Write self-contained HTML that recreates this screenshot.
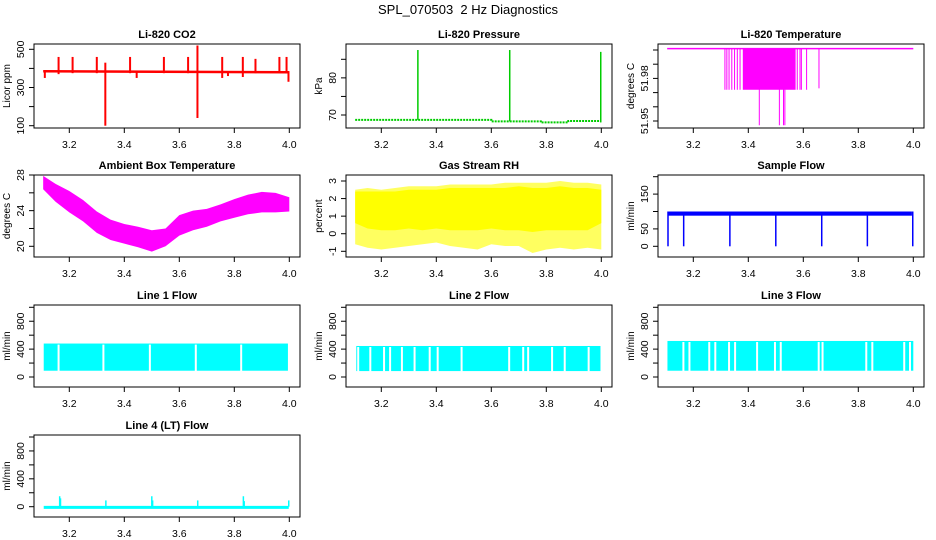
<!DOCTYPE html>
<html><head><meta charset="utf-8">
<style>
html,body{margin:0;padding:0;background:#fff;}
svg{display:block;font-family:"Liberation Sans",Arial,sans-serif;}
</style></head>
<body>
<svg id="chart" width="936" height="540" viewBox="0 0 936 540" xmlns="http://www.w3.org/2000/svg">
<rect x="0" y="0" width="936" height="540" fill="#fff"/>
<text x="468" y="14" text-anchor="middle" font-size="13" xml:space="preserve">SPL_070503&#160; 2 Hz Diagnostics</text>
</svg>
<script>
// ---------- data ----------
const xTicks = [3.2, 3.4, 3.6, 3.8, 4.0];
const xTickLabels = ["3.2", "3.4", "3.6", "3.8", "4.0"];

// CO2
const co2Line = [[3.105, 385], [4.0, 380]];
const co2Spikes = [[3.111,350,390],[3.161,370,460],[3.212,375,460],[3.300,375,460],[3.331,100,430],[3.421,375,460],[3.445,350,385],[3.544,375,460],[3.632,375,460],[3.666,140,520],[3.756,350,460],[3.777,360,385],[3.831,355,460],[3.877,375,450],[3.964,375,460],[3.990,375,460],[3.997,330,385]];
const co2Ticks = [100, 200, 300, 400, 500];
const co2Labels = ["100", "", "300", "", "500"];

// Pressure
const presLine = [[3.105,68.7],[3.6,68.7],[3.6,68.3],[3.78,68.3],[3.78,68.0],[3.88,68.0],[3.88,68.4],[3.995,68.4]];
const presSpikes = [[3.333,68.7,87.5],[3.667,68.3,87.5],[3.998,68.0,87.0]];
const presTicks = [70, 75, 80, 85];
const presLabels = ["70", "", "80", ""];

// Li-820 temperature
const tempTop = [[3.105, 52.001], [4.0, 52.001]];
const tempBand = [3.38, 3.572, 51.972, 52.001];
const tempLines = [[3.315,51.972],[3.322,51.972],[3.33,51.972],[3.34,51.972],[3.35,51.972],[3.36,51.972],[3.37,51.972],[3.44,51.947],[3.513,51.947],[3.528,51.947],[3.533,51.947],[3.578,51.972],[3.588,51.972],[3.593,51.972],[3.612,51.972],[3.657,51.973]];
const tempTicks = [51.95, 51.96, 51.97, 51.98, 51.99, 52.00];
const tempLabels = ["51.95", "", "", "51.98", "", ""];

// Ambient box temperature envelope
const ambX  = [3.105,3.15,3.20,3.25,3.30,3.35,3.40,3.45,3.50,3.55,3.60,3.65,3.70,3.75,3.80,3.85,3.90,3.95,4.00];
const ambHi = [27.9,27.0,26.2,25.2,23.9,23.0,22.5,22.2,21.8,22.0,23.5,24.0,24.2,24.7,25.3,25.8,26.1,26.0,25.5];
const ambLo = [26.4,25.0,23.8,22.8,21.5,20.7,20.3,19.9,19.4,20.0,21.2,21.8,22.2,22.8,23.2,23.6,23.8,23.8,23.9];
const ambTicks = [20, 22, 24, 26, 28];
const ambLabels = ["20", "", "24", "", "28"];

// Gas stream RH envelope
const rhX      = [3.105,3.15,3.20,3.25,3.30,3.35,3.40,3.45,3.50,3.55,3.60,3.65,3.70,3.75,3.80,3.85,3.90,3.95,4.00];
const rhHi     = [2.5,2.6,2.5,2.6,2.7,2.7,2.7,2.8,2.8,2.8,2.8,2.9,2.9,2.9,2.9,3.0,2.9,2.9,2.8];
const rhCoreHi = [2.4,2.4,2.4,2.4,2.5,2.5,2.5,2.6,2.6,2.6,2.6,2.6,2.7,2.6,2.6,2.7,2.6,2.6,2.5];
const rhCoreLo = [0.6,0.3,0.2,0.2,0.3,0.2,0.3,0.2,0.2,0.2,0.3,0.2,0.2,0.1,0.2,0.2,0.2,0.2,0.6];
const rhLo     = [-0.6,-0.8,-0.9,-0.8,-0.7,-0.6,-0.5,-0.7,-0.8,-0.9,-0.6,-0.7,-0.7,-1.1,-0.9,-0.8,-0.9,-0.8,-0.9];
const rhTicks = [-1, 0, 1, 2, 3];
const rhLabels = ["-1", "0", "1", "2", "3"];

// Sample flow
const sfBand = [3.108, 3.995, 88, 100];
const sfDips = [[3.108,0],[3.165,0],[3.333,0],[3.5,0],[3.667,0],[3.833,0],[3.998,0]];
const sfTicks = [0, 50, 100, 150, 200];
const sfLabels = ["0", "50", "", "150", ""];

// Flows
const flowTicks = [0, 200, 400, 600, 800, 1000];
const flowLabels = ["0", "", "400", "", "800", ""];
const line1Range = [3.107, 3.995, 90, 480];
const line1Gaps = [3.161, 3.324, 3.493, 3.66, 3.825];
const line2Range = [3.109, 3.997, 85, 445];
const line2Gaps = [3.116,3.16,3.21,3.232,3.275,3.321,3.376,3.405,3.492,3.665,3.716,3.734,3.821,3.867,3.954];
const line3Range = [3.106, 4.0, 90, 517];
const line3Gaps = [3.164,3.186,3.258,3.28,3.33,3.352,3.432,3.497,3.518,3.656,3.67,3.829,3.851,3.967,3.988];
const line4Base = [3.107, 3.998, -10];
const line4Spikes = [[3.165,150],[3.168,120],[3.333,90],[3.5,150],[3.503,90],[3.667,90],[3.833,150],[3.836,80],[3.998,90]];

// ---------- drawing ----------
const svg = document.getElementById('chart');
const NS = 'http://www.w3.org/2000/svg';
function mk(tag, attrs, parent) {
  const e = document.createElementNS(NS, tag);
  for (const k in attrs) e.setAttribute(k, attrs[k]);
  (parent || svg).appendChild(e);
  return e;
}
const cols = [34, 346, 658];
const rows = [[44,128],[175,257],[305,387],[435,517]];

function panel(name, title, ylab, col, row, yv0, yv1, yp0Off, yp1Off, ticks, labels) {
  const l = cols[col], r = l + 266, t = rows[row][0], b = rows[row][1];
  const g = mk('g', {});
  
  
  const xp = v => (l + 35.3) + (v - 3.2) / 0.8 * 220;
  const yp0 = t + yp0Off, yp1 = t + yp1Off;
  const yp = v => yp0 + (v - yv0) / (yv1 - yv0) * (yp1 - yp0);
  const clip = 'clip-' + name;
  const cp = mk('clipPath', {id: clip}, g);
  mk('rect', {x: l, y: t, width: r - l, height: b - t}, cp);
  const plot = mk('g', {'clip-path': 'url(#' + clip + ')'}, g);
  
  
  const fr = mk('rect', {x: l, y: t, width: r - l, height: b - t, fill: 'none', stroke: '#000', 'stroke-width': 1}, g);
  
  
  const xa = mk('g', {}, g);
  
  
  xTicks.forEach((v, i) => {
    const x = xp(v);
    mk('line', {x1: x, x2: x, y1: b, y2: b + 5, stroke: '#000'}, xa);
    const tx = mk('text', {x: x, y: b + 20, 'text-anchor': 'middle', 'font-size': 10.5}, xa);
    tx.textContent = xTickLabels[i];
  });
  const ya = mk('g', {}, g);
  
  
  mk('line', {x1: l, x2: l, y1: yp(ticks[0]), y2: yp(ticks[ticks.length - 1]), stroke: '#000'}, ya);
  ticks.forEach((v, i) => {
    const y = yp(v);
    mk('line', {x1: l - 5, x2: l, y1: y, y2: y, stroke: '#000'}, ya);
    if (labels[i]) {
      const tx = mk('text', {x: l - 10, y: y, 'text-anchor': 'middle', 'font-size': 10.5, transform: 'rotate(-90 ' + (l - 10) + ' ' + y + ')'}, ya);
      tx.textContent = labels[i];
    }
  });
  const tt = mk('text', {x: (l + r) / 2, y: t - 6, 'text-anchor': 'middle', 'font-size': 11, 'font-weight': 'bold'}, g);
  
  
  tt.textContent = title;
  const cy = (t + b) / 2;
  const yl = mk('text', {x: l - 24, y: cy, 'text-anchor': 'middle', 'font-size': 10, transform: 'rotate(-90 ' + (l - 24) + ' ' + cy + ')'}, g);
  
  
  yl.textContent = ylab;
  return {plot, xp, yp};
}
function polyline(p, pts, color, w, dash) {
  const a = {points: pts.map(q => p.xp(q[0]) + ',' + p.yp(q[1])).join(' '), fill: 'none', stroke: color, 'stroke-width': w};
  if (dash) a['stroke-dasharray'] = dash;
  return mk('polyline', a, p.plot);
}
function vline(p, x, v0, v1, color, w) {
  return mk('line', {x1: p.xp(x), x2: p.xp(x), y1: p.yp(v0), y2: p.yp(v1), stroke: color, 'stroke-width': w}, p.plot);
}
function band(p, xs, lo, hi, color) {
  const pts = xs.map((x, i) => p.xp(x) + ',' + p.yp(hi[i])).concat(xs.map((x, i) => p.xp(x) + ',' + p.yp(lo[i])).reverse());
  return mk('polygon', {points: pts.join(' '), fill: color}, p.plot);
}
function rectBand(p, x0, x1, v0, v1, color) {
  return mk('rect', {x: p.xp(x0), y: p.yp(v1), width: p.xp(x1) - p.xp(x0), height: p.yp(v0) - p.yp(v1), fill: color}, p.plot);
}

let p = panel('co2', 'Li-820 CO2', 'Licor ppm', 0, 0, 100, 500, 81.7, 5.3, co2Ticks, co2Labels);
polyline(p, co2Line, '#ff0000', 2.5);
co2Spikes.forEach(s => vline(p, s[0], s[1], s[2], '#ff0000', 2));

p = panel('pressure', 'Li-820 Pressure', 'kPa', 1, 0, 70, 85, 71, 15.3, presTicks, presLabels);
polyline(p, presLine, '#00cc00', 2, '2,1');
presSpikes.forEach(s => vline(p, s[0], s[1], s[2], '#00cc00', 1.5));

p = panel('li820-temp', 'Li-820 Temperature', 'degrees C', 2, 0, 51.95, 52.00, 77, 6, tempTicks, tempLabels);
polyline(p, tempTop, '#ff00ff', 1.5);
rectBand(p, tempBand[0], tempBand[1], tempBand[2], tempBand[3], '#ff00ff');
tempLines.forEach(s => vline(p, s[0], s[1], 52.001, '#ff00ff', 1));

p = panel('ambient-temp', 'Ambient Box Temperature', 'degrees C', 0, 1, 20, 28, 71.3, 0, ambTicks, ambLabels);
band(p, ambX, ambLo, ambHi, '#ff00ff');

p = panel('gas-rh', 'Gas Stream RH', 'percent', 1, 1, -1, 3, 76.3, 6, rhTicks, rhLabels);
band(p, rhX, rhLo, rhHi, '#ffff60');
band(p, rhX, rhCoreLo, rhCoreHi, '#ffff00');

p = panel('sample-flow', 'Sample Flow', 'ml/min', 2, 1, 0, 200, 71.3, 1.7, sfTicks, sfLabels);
rectBand(p, sfBand[0], sfBand[1], sfBand[2], sfBand[3], '#0000ff');
sfDips.forEach(s => vline(p, s[0], s[1], sfBand[3], '#0000ff', 1.5));

function flowPanel(name, title, col, row, range, gaps) {
  const q = panel(name, title, 'ml/min', col, row, 0, 1000, 72, 2.3, flowTicks, flowLabels);
  rectBand(q, range[0], range[1], range[2], range[3], '#00ffff');
  gaps.forEach(g => vline(q, g, range[2] - 5, range[3] - 15, '#ffffff', 2));
  return q;
}
flowPanel('line1-flow', 'Line 1 Flow', 0, 2, line1Range, line1Gaps);
flowPanel('line2-flow', 'Line 2 Flow', 1, 2, line2Range, line2Gaps);
flowPanel('line3-flow', 'Line 3 Flow', 2, 2, line3Range, line3Gaps);

p = panel('line4-flow', 'Line 4 (LT) Flow', 'ml/min', 0, 3, 0, 1000, 71.7, 2, flowTicks, flowLabels);
polyline(p, [[line4Base[0], line4Base[2]], [line4Base[1], line4Base[2]]], '#00ffff', 3);
line4Spikes.forEach(s => vline(p, s[0], 0, s[1], '#00ffff', 1.5));
</script>
</body></html>
